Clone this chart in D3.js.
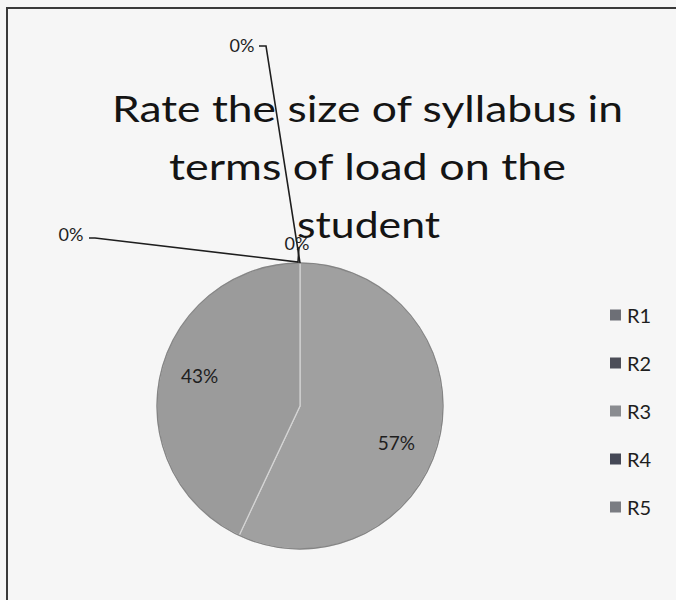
<!DOCTYPE html>
<html><head><meta charset="utf-8">
<script src="https://cdn.jsdelivr.net/npm/d3@7"></script>
<style>html,body{margin:0;padding:0;background:#f6f6f6;}svg{display:block;}</style>
</head><body>
<svg id="chart" width="676" height="600"></svg>
<script>
const categories = ["R1", "R2", "R3", "R4", "R5"];
const values = [0, 0, 0, 57, 43];
const titleLines = ["Rate the size of syllabus in", "terms of load on the", "student"];
const legendColors = ["#6d6f76", "#4c4e58", "#8a8c90", "#454856", "#7a7c82"];
const sliceColors = ["#9d9d9d", "#9d9d9d", "#9d9d9d", "#a0a0a0", "#9b9b9b"];

(function () {
const svg = d3.select("#chart");
const W = 676, H = 600;
svg.append("rect").attr("width", W).attr("height", H).attr("fill", "#f6f6f6");
svg.append("path").attr("d", "M7,600 L7,8 L676,8").attr("fill", "none").attr("stroke", "#3a3a3a").attr("stroke-width", 2);

const cx = 300, cy = 406, R = 143;
const g = svg.append("g").attr("transform", `translate(${cx},${cy})`);
const pie = d3.pie().sort(null).value(d => d)(values);
const arc = d3.arc().innerRadius(0).outerRadius(R);
g.selectAll("path.slice").data(pie).enter().append("path")
  .attr("class", "slice")
  .attr("d", arc)
  .attr("fill", (d, i) => sliceColors[i])
  .attr("stroke", "#d4d4d4").attr("stroke-width", 1.2);
g.append("circle").attr("r", R).attr("fill", "none").attr("stroke", "#858585").attr("stroke-width", 1.3);

const total = d3.sum(values);
const pct = v => Math.round(v / total * 100) + "%";
const labelArc = d3.arc().innerRadius(R * 0.72).outerRadius(R * 0.72);
pie.forEach((d, i) => {
  if (d.data > 0) {
    const [x, y] = labelArc.centroid(d);
    g.append("text").attr("x", x + (i === 3 ? -4 : 0)).attr("y", y + (i === 3 ? 14 : -8))
      .attr("text-anchor", "middle").attr("dominant-baseline", "central")
      .attr("font-family", "Lato, 'Open Sans', sans-serif").attr("font-size", 19).attr("fill", "#1e1e1e")
      .text(pct(d.data));
  }
});

const titleLayout = [{x: 112, w: 511}, {x: 169, w: 397}, {x: 297, w: 143}];
const title = svg.append("g");
titleLines.forEach((t, i) => {
  title.append("text").attr("x", titleLayout[i].x).attr("y", 122 + i * 58)
    .attr("textLength", titleLayout[i].w).attr("lengthAdjust", "spacingAndGlyphs")
    .attr("font-family", "Lato, 'Open Sans', sans-serif").attr("font-size", 36).attr("fill", "#141414")
    .text(t);
});

const rimTop = [cx + Math.sin(pie[0].startAngle) * R, cy - Math.cos(pie[0].startAngle) * R];
const zeroLabels = [
  {x: 242, y: 45, line: [[259, 46], [266, 46], rimTop]},
  {x: 71, y: 234, line: [[89, 238], [95, 238], [rimTop[0] - 2, rimTop[1] - 1], [rimTop[0] - 1, rimTop[1] - 16]]},
  {x: 297, y: 243, line: null}
];
zeroLabels.forEach((z, k) => {
  if (z.line) {
    svg.append("path").attr("d", d3.line()(z.line)).attr("fill", "none").attr("stroke", "#1e1e1e").attr("stroke-width", 1.6);
  }
  svg.append("text").attr("x", z.x).attr("y", z.y).attr("text-anchor", "middle").attr("dominant-baseline", "central")
    .attr("font-family", "Lato, 'Open Sans', sans-serif").attr("font-size", 18).attr("fill", "#1e1e1e")
    .text(pct(values[k]));
});

const leg = svg.append("g");
categories.forEach((c, i) => {
  const y = 315 + i * 48;
  leg.append("rect").attr("x", 610).attr("y", y - 5.5).attr("width", 11).attr("height", 11).attr("fill", legendColors[i]);
  leg.append("text").attr("x", 627).attr("y", y).attr("dominant-baseline", "central")
    .attr("font-family", "Lato, 'Open Sans', sans-serif").attr("font-size", 20).attr("fill", "#1e1e1e").text(c);
});
})();
</script>
</body></html>
